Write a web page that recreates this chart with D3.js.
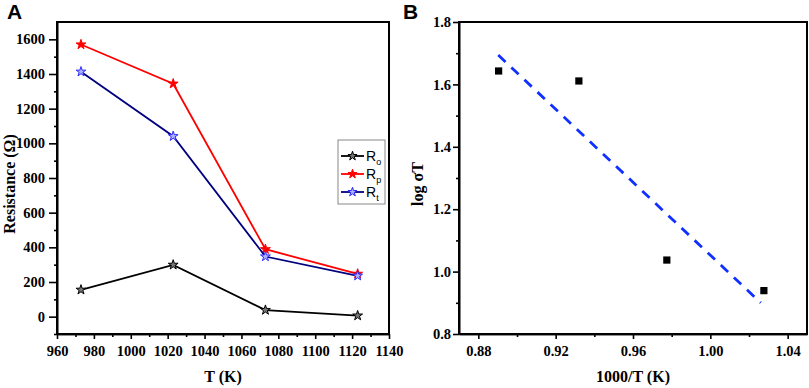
<!DOCTYPE html>
<html>
<head>
<meta charset="utf-8" />
<title>Resistance and conductivity</title>
<script src="https://d3js.org/d3.v7.min.js"></script>
<style type="text/css">
body { margin: 0; background: #fff; }
.tick text { font-family: "Liberation Serif", "Times New Roman", serif; font-weight: bold; font-size: 14.5px; fill: #000; }
.axis path, .axis line { stroke: #000; stroke-width: 1.6px; }
.title { font-family: "Liberation Serif", "Times New Roman", serif; font-weight: bold; font-size: 16px; }
.panel { font-family: "Liberation Sans", Arial, sans-serif; font-weight: bold; font-size: 21px; }
.legend { font-family: "Liberation Sans", Arial, sans-serif; font-size: 14px; }
</style>
</head>
<body>
<div id="svg"></div>
<script type="text/javascript">
var width = 809,
    height = 388;

// panel A data
var temps = [973, 1023, 1073, 1123];
var Ro = [155, 299, 38, 6];
var Rp = [1570, 1344, 389, 247];
var Rt = [1413, 1041, 347, 236];

// panel B data
var invT = [0.8905, 0.9320, 0.9775, 1.0277];
var logST = [1.643, 1.611, 1.037, 0.939];
var fitX = [0.8903, 1.0261];
var fitY = [1.694, 0.900];

var xTicksA = d3.range(960, 1141, 20);
var yTicksA = d3.range(0, 1601, 200);
var xTicksB = [0.88, 0.92, 0.96, 1.00, 1.04];
var yTicksB = [0.8, 1.0, 1.2, 1.4, 1.6, 1.8];

var svg = d3.select("#svg")
    .append("svg")
    .attr("width", width)
    .attr("height", height);

// ---------- Panel A ----------
var a = { left: 57, top: 22, right: 389, bottom: 334 };

var xA = d3.scaleLinear().domain([960, 1140]).range([a.left, a.right]);
var yA = d3.scaleLinear().domain([-100, 1700]).range([a.bottom, a.top]);

svg.append("g")
    .attr("class", "axis")
    .attr("transform", "translate(0," + a.bottom + ")")
    .call(d3.axisBottom(xA).tickValues(d3.range(970, 1140, 20)).tickSize(3).tickSizeOuter(0).tickFormat(""));
svg.append("g")
    .attr("class", "axis")
    .attr("transform", "translate(0," + a.bottom + ")")
    .call(d3.axisBottom(xA).tickValues(xTicksA).tickSize(5).tickPadding(7).tickSizeOuter(0).tickFormat(d3.format("d")));
svg.append("g")
    .attr("class", "axis")
    .attr("transform", "translate(" + a.left + ",0)")
    .call(d3.axisLeft(yA).tickValues(d3.range(-100, 1700, 200)).tickSize(3).tickSizeOuter(0).tickFormat(""));
svg.append("g")
    .attr("class", "axis")
    .attr("transform", "translate(" + a.left + ",0)")
    .call(d3.axisLeft(yA).tickValues(yTicksA).tickSize(8).tickPadding(4).tickSizeOuter(0).tickFormat(d3.format("d")));

svg.append("rect")
    .attr("x", a.left).attr("y", a.top)
    .attr("width", a.right - a.left).attr("height", a.bottom - a.top)
    .attr("fill", "none").attr("stroke", "#000").attr("stroke-width", 2);

var seriesA = [
    { name: "o", values: Ro, line: "#000000", stroke: "#000000", fill: "#777777" },
    { name: "p", values: Rp, line: "#ff0000", stroke: "#ff0000", fill: "#ff0000" },
    { name: "t", values: Rt, line: "#000080", stroke: "#2b2bff", fill: "#b0b0ff" }
];

var lineA = d3.line()
    .x(d => xA(d[0]))
    .y(d => yA(d[1]));

var star = d3.symbol().type(d3.symbolStar).size(30);

seriesA.forEach(function(s) {
    var pts = temps.map((t, i) => [t, s.values[i]]);
    svg.append("path")
        .datum(pts)
        .attr("d", lineA)
        .attr("fill", "none")
        .attr("stroke", s.line)
        .attr("stroke-width", 1.8);
    svg.selectAll(null)
        .data(pts)
        .enter()
        .append("path")
        .attr("d", star)
        .attr("transform", d => "translate(" + xA(d[0]) + "," + yA(d[1]) + ")")
        .attr("fill", s.fill)
        .attr("stroke", s.stroke)
        .attr("stroke-width", 1);
});

// legend
var lg = svg.append("g").attr("transform", "translate(338,140)");
lg.append("rect")
    .attr("width", 47).attr("height", 64)
    .attr("fill", "#fff").attr("stroke", "#888").attr("stroke-width", 1);
seriesA.forEach(function(s, i) {
    var y = 16 + i * 18;
    lg.append("line")
        .attr("x1", 3).attr("x2", 26).attr("y1", y).attr("y2", y)
        .attr("stroke", s.line).attr("stroke-width", 1.8);
    lg.append("path")
        .attr("d", d3.symbol().type(d3.symbolStar).size(26))
        .attr("transform", "translate(14.5," + y + ")")
        .attr("fill", s.fill).attr("stroke", s.stroke).attr("stroke-width", 1);
    var t = lg.append("text")
        .attr("class", "legend")
        .attr("x", 28).attr("y", y + 5);
    t.append("tspan").text("R");
    t.append("tspan").attr("dy", 4).attr("font-size", "9px").text(s.name);
});

svg.append("text")
    .attr("class", "title")
    .attr("x", 223)
    .attr("y", 382)
    .attr("text-anchor", "middle")
    .text("T (K)");
svg.append("text")
    .attr("class", "title")
    .attr("transform", "translate(15,184) rotate(-90)")
    .attr("text-anchor", "middle")
    .text("Resistance (\u03A9)");
svg.append("text")
    .attr("class", "panel")
    .attr("x", 7).attr("y", 19)
    .text("A");

// ---------- Panel B ----------
var b = { left: 459, top: 22, right: 807, bottom: 334 };

var xB = d3.scaleLinear().domain([0.87, 1.05]).range([b.left, b.right]);
var yB = d3.scaleLinear().domain([0.8, 1.8]).range([b.bottom, b.top]);

svg.append("g")
    .attr("class", "axis")
    .attr("transform", "translate(0," + b.bottom + ")")
    .call(d3.axisBottom(xB).tickValues([0.90, 0.94, 0.98, 1.02]).tickSize(3).tickSizeOuter(0).tickFormat(""));
svg.append("g")
    .attr("class", "axis")
    .attr("transform", "translate(0," + b.bottom + ")")
    .call(d3.axisBottom(xB).tickValues(xTicksB).tickSize(5).tickPadding(7).tickSizeOuter(0).tickFormat(d3.format(".2f")));
svg.append("g")
    .attr("class", "axis")
    .attr("transform", "translate(" + b.left + ",0)")
    .call(d3.axisLeft(yB).tickValues([0.9, 1.1, 1.3, 1.5, 1.7]).tickSize(3).tickSizeOuter(0).tickFormat(""));
svg.append("g")
    .attr("class", "axis")
    .attr("transform", "translate(" + b.left + ",0)")
    .call(d3.axisLeft(yB).tickValues(yTicksB).tickSize(6).tickPadding(2).tickSizeOuter(0).tickFormat(d3.format(".1f")));

svg.append("rect")
    .attr("x", b.left).attr("y", b.top)
    .attr("width", b.right - b.left).attr("height", b.bottom - b.top)
    .attr("fill", "none").attr("stroke", "#000").attr("stroke-width", 2);

svg.append("path")
    .datum(fitX.map((x, i) => [x, fitY[i]]))
    .attr("d", d3.line().x(d => xB(d[0])).y(d => yB(d[1])))
    .attr("fill", "none")
    .attr("stroke", "#1030ff")
    .attr("stroke-width", 2.8)
    .attr("stroke-dasharray", "10,8");

svg.selectAll(".sq")
    .data(invT.map((x, i) => [x, logST[i]]))
    .enter()
    .append("path")
    .attr("class", "sq")
    .attr("d", d3.symbol().type(d3.symbolSquare).size(52))
    .attr("transform", d => "translate(" + xB(d[0]) + "," + yB(d[1]) + ")")
    .attr("fill", "#000");

svg.append("text")
    .attr("class", "title")
    .attr("x", 633)
    .attr("y", 382)
    .attr("text-anchor", "middle")
    .text("1000/T (K)");
svg.append("text")
    .attr("class", "title")
    .attr("transform", "translate(423,184) rotate(-90)")
    .attr("text-anchor", "middle")
    .text("log \u03C3T");
svg.append("text")
    .attr("class", "panel")
    .attr("x", 403).attr("y", 19)
    .text("B");
</script>
</body>
</html>
